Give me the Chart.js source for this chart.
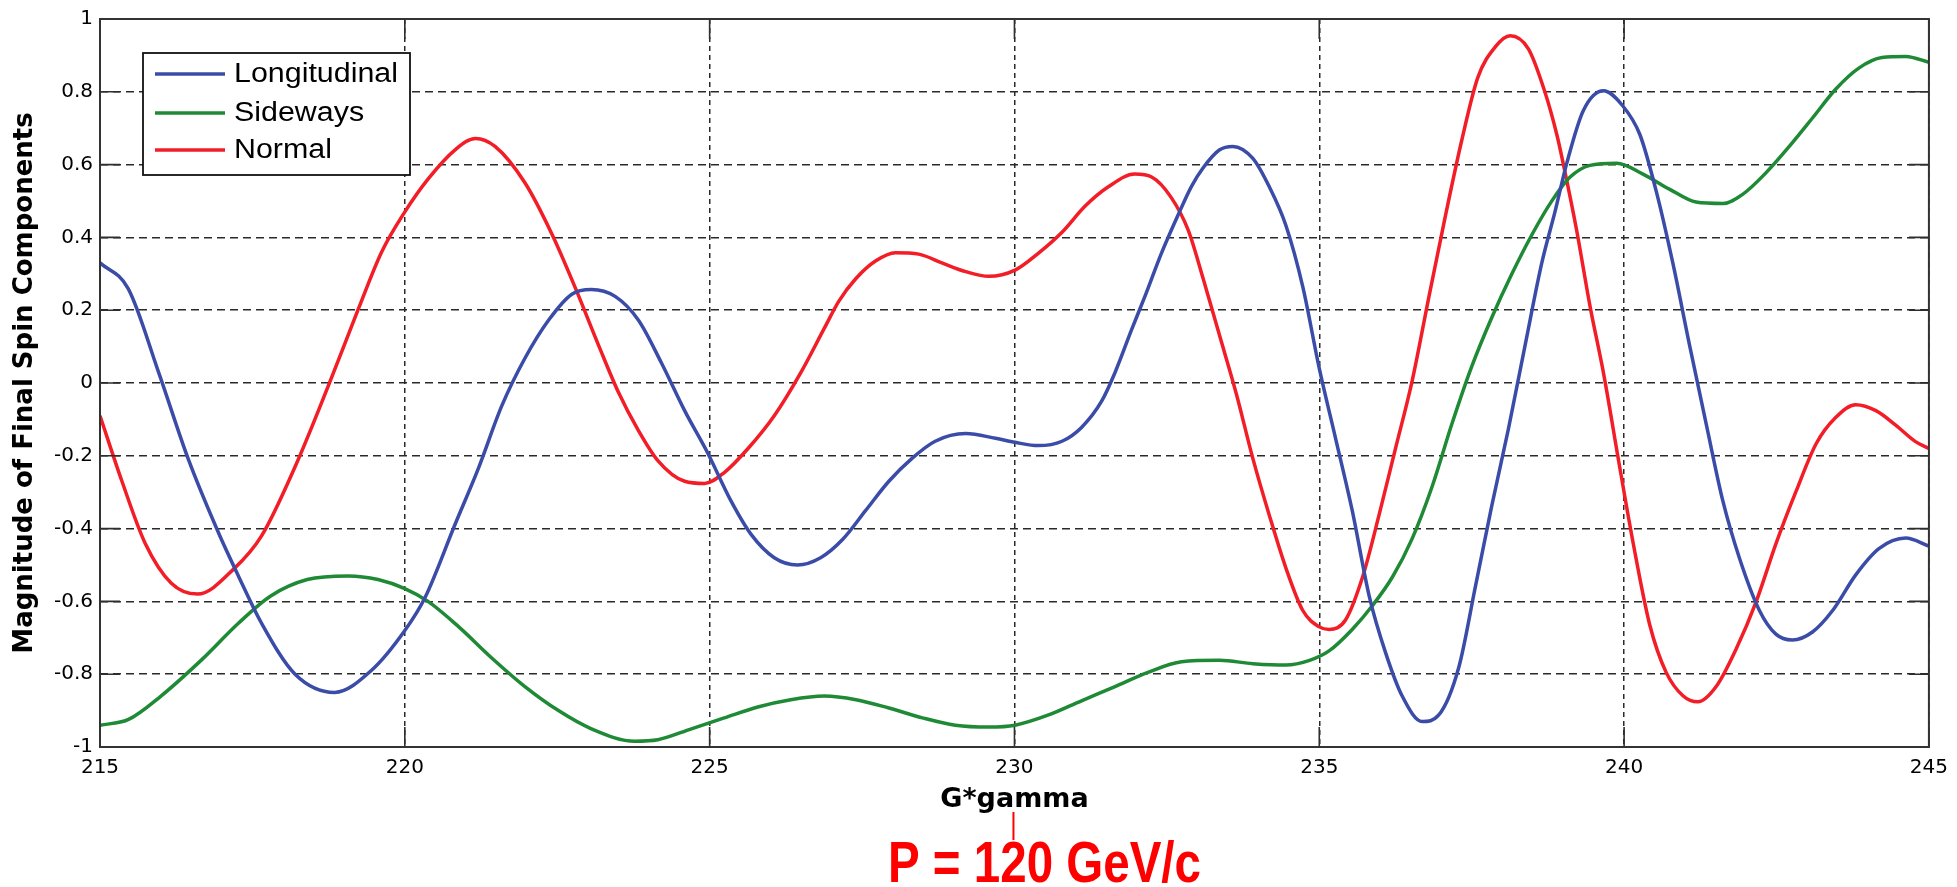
<!DOCTYPE html>
<html>
<head>
<meta charset="utf-8">
<script src="https://cdn.jsdelivr.net/npm/chart.js@4.4.1/dist/chart.umd.min.js"></script>
<style>
html,body{margin:0;padding:0;background:#fff;}
#wrap{width:1957px;height:887px;position:relative;}
</style>
</head>
<body>
<div id="wrap"><canvas id="c"></canvas></div>
<script>
// ---------- data ----------
const xTicks = [215, 220, 225, 230, 235, 240, 245];
const xTickLabels = ['215', '220', '225', '230', '235', '240', '245'];
const yTicks = [-1, -0.8, -0.6, -0.4, -0.2, 0, 0.2, 0.4, 0.6, 0.8, 1];
const yTickLabels = ['-1', '-0.8', '-0.6', '-0.4', '-0.2', '0', '0.2', '0.4', '0.6', '0.8', '1'];
const seriesNames = ['Longitudinal', 'Sideways', 'Normal'];
const xAxisTitle = 'G*gamma';
const yAxisTitle = 'Magnitude of Final Spin Components';
const annotationText = 'P = 120 GeV/c';

const longX = [215.0, 215.46, 215.96, 216.45, 216.94, 217.27, 217.65, 218.2, 218.85, 219.45, 220.0, 220.33, 220.82, 221.21, 221.59, 221.97, 222.36, 222.74, 223.06, 223.45, 223.83, 224.21, 224.59, 224.97, 225.35, 225.68, 226.06, 226.44, 226.82, 227.18, 227.56, 227.94, 228.32, 228.7, 229.2, 229.69, 230.01, 230.39, 230.78, 231.1, 231.43, 231.65, 231.92, 232.14, 232.41, 232.68, 232.9, 233.09, 233.36, 233.58, 233.91, 234.18, 234.45, 234.73, 235.0, 235.27, 235.54, 235.82, 236.09, 236.36, 236.69, 236.96, 237.29, 237.56, 237.83, 238.1, 238.38, 238.65, 238.87, 239.06, 239.33, 239.66, 239.98, 240.26, 240.53, 240.8, 241.07, 241.35, 241.62, 241.89, 242.22, 242.49, 242.76, 243.09, 243.42, 243.8, 244.18, 244.62, 245.0];
const longY = [0.33, 0.26, 0.03, -0.21, -0.41, -0.53, -0.66, -0.8, -0.85, -0.79, -0.68, -0.59, -0.39, -0.233, -0.063, 0.068, 0.173, 0.244, 0.257, 0.238, 0.173, 0.055, -0.076, -0.193, -0.324, -0.416, -0.48, -0.5, -0.48, -0.43, -0.35, -0.27, -0.207, -0.16, -0.139, -0.152, -0.163, -0.172, -0.16, -0.122, -0.05, 0.029, 0.146, 0.238, 0.356, 0.46, 0.539, 0.59, 0.64, 0.65, 0.617, 0.539, 0.434, 0.264, 0.04, -0.154, -0.35, -0.586, -0.742, -0.86, -0.93, -0.912, -0.78, -0.56, -0.337, -0.128, 0.107, 0.33, 0.473, 0.604, 0.748, 0.803, 0.761, 0.682, 0.525, 0.329, 0.107, -0.115, -0.324, -0.48, -0.625, -0.69, -0.706, -0.684, -0.625, -0.527, -0.455, -0.426, -0.448];

const sideX = [215.0, 215.46, 216.0, 216.67, 217.27, 217.8, 218.4, 219.07, 219.56, 220.0, 220.38, 220.885, 221.43, 221.97, 222.52, 223.06, 223.77, 224.15, 224.7, 225.24, 225.79, 226.33, 226.88, 227.4, 227.94, 228.49, 229.03, 229.58, 230.01, 230.56, 231.1, 231.65, 232.19, 232.74, 233.36, 233.91, 234.45, 234.84, 235.16, 235.54, 235.87, 236.2, 236.52, 236.85, 237.18, 237.5, 237.83, 238.16, 238.49, 238.81, 239.11, 239.44, 239.88, 240.31, 240.75, 241.18, 241.62, 241.95, 242.33, 242.71, 243.09, 243.47, 243.85, 244.23, 244.62, 245.0];
const sideY = [-0.94, -0.925, -0.86, -0.76, -0.66, -0.585, -0.54, -0.53, -0.54, -0.565, -0.6, -0.67, -0.756, -0.834, -0.9, -0.95, -0.984, -0.98, -0.95, -0.92, -0.89, -0.87, -0.86, -0.87, -0.893, -0.92, -0.94, -0.945, -0.94, -0.912, -0.873, -0.834, -0.795, -0.766, -0.762, -0.771, -0.775, -0.762, -0.736, -0.677, -0.612, -0.533, -0.429, -0.285, -0.11, 0.045, 0.18, 0.3, 0.408, 0.499, 0.565, 0.598, 0.604, 0.574, 0.532, 0.497, 0.493, 0.519, 0.578, 0.65, 0.728, 0.807, 0.865, 0.894, 0.897, 0.881];

const normX = [215.0, 215.36, 215.74, 216.17, 216.6, 217.2, 217.65, 218.2, 218.74, 219.23, 219.62, 220.0, 220.38, 220.82, 221.16, 221.48, 221.97, 222.41, 222.79, 223.17, 223.5, 223.83, 224.15, 224.59, 224.92, 225.24, 225.63, 226.06, 226.5, 226.88, 227.12, 227.4, 227.72, 228.05, 228.43, 228.81, 229.2, 229.58, 230.01, 230.39, 230.78, 231.16, 231.54, 231.97, 232.25, 232.57, 232.85, 233.09, 233.36, 233.64, 233.91, 234.18, 234.45, 234.73, 235.0, 235.16, 235.43, 235.71, 235.98, 236.25, 236.52, 236.8, 237.07, 237.34, 237.6, 237.89, 238.13, 238.43, 238.7, 238.9, 239.0, 239.22, 239.44, 239.66, 239.93, 240.15, 240.42, 240.69, 240.97, 241.21, 241.51, 241.84, 242.17, 242.49, 242.82, 243.15, 243.47, 243.8, 244.13, 244.45, 244.78, 245.0];
const normY = [-0.09, -0.27, -0.44, -0.55, -0.58, -0.51, -0.42, -0.23, -0.01, 0.2, 0.36, 0.47, 0.56, 0.64, 0.672, 0.65, 0.55, 0.41, 0.264, 0.107, -0.024, -0.13, -0.213, -0.27, -0.276, -0.246, -0.18, -0.09, 0.03, 0.15, 0.225, 0.287, 0.335, 0.358, 0.354, 0.33, 0.306, 0.293, 0.31, 0.356, 0.414, 0.486, 0.539, 0.574, 0.566, 0.51, 0.42, 0.29, 0.133, -0.03, -0.207, -0.363, -0.507, -0.625, -0.67, -0.677, -0.651, -0.533, -0.363, -0.18, 0.003, 0.238, 0.46, 0.669, 0.839, 0.924, 0.954, 0.918, 0.8, 0.68, 0.604, 0.421, 0.212, 0.029, -0.233, -0.441, -0.664, -0.795, -0.86, -0.876, -0.834, -0.73, -0.599, -0.442, -0.298, -0.167, -0.095, -0.06, -0.076, -0.115, -0.161, -0.18];

const seriesColors = ['#3a4ca8', '#1f8a35', '#f21d26'];

// ---------- build ----------
const pairs = (xs, ys) => xs.map((x, i) => ({x: x, y: ys[i]}));
const seriesData = [pairs(longX, longY), pairs(sideX, sideY), pairs(normX, normY)];

const datasets = seriesNames.map((name, i) => ({
  label: name,
  data: seriesData[i],
  borderColor: seriesColors[i],
  backgroundColor: seriesColors[i],
  borderWidth: 3.5,
  pointRadius: 0,
  fill: false,
  cubicInterpolationMode: 'monotone'
}));

const TICK_LEN = 20;

const framePlugin = {
  id: 'frame',
  afterDatasetsDraw(chart) {
    const {ctx, chartArea: a, scales} = chart;
    const xs = scales.x, ys = scales.y;
    ctx.save();
    ctx.setLineDash([]);
    ctx.strokeStyle = '#2e2e2e';
    ctx.lineWidth = 1.6;
    ctx.beginPath();
    yTicks.forEach(v => {
      const py = ys.getPixelForValue(v);
      ctx.moveTo(a.left, py); ctx.lineTo(a.left + TICK_LEN, py);
      ctx.moveTo(a.right, py); ctx.lineTo(a.right - TICK_LEN, py);
    });
    xTicks.forEach(v => {
      const px = xs.getPixelForValue(v);
      ctx.moveTo(px, a.bottom); ctx.lineTo(px, a.bottom - TICK_LEN);
      ctx.moveTo(px, a.top); ctx.lineTo(px, a.top + TICK_LEN);
    });
    ctx.stroke();
    ctx.lineWidth = 2;
    ctx.strokeStyle = '#333';
    ctx.strokeRect(a.left, a.top, a.right - a.left, a.bottom - a.top);
    ctx.restore();
  }
};

const legendPlugin = {
  id: 'innerLegend',
  afterDraw(chart) {
    const {ctx, chartArea: a} = chart;
    const lx = a.left + 43, ly = a.top + 34, lw = 267, lh = 122;
    ctx.save();
    ctx.fillStyle = '#fff';
    ctx.fillRect(lx, ly, lw, lh);
    ctx.strokeStyle = '#111';
    ctx.lineWidth = 1.8;
    ctx.setLineDash([]);
    ctx.strokeRect(lx, ly, lw, lh);
    const rows = [21, 60, 97];
    ctx.font = '27px "Liberation Sans", Arial, sans-serif';
    const sx = 164 / ctx.measureText(seriesNames[0]).width;
    chart.data.datasets.forEach((ds, i) => {
      const yy = ly + rows[i];
      ctx.strokeStyle = ds.borderColor;
      ctx.lineWidth = 3.5;
      ctx.beginPath();
      ctx.moveTo(lx + 12, yy); ctx.lineTo(lx + 82, yy);
      ctx.stroke();
      ctx.save();
      ctx.translate(lx + 91, yy + 1);
      ctx.scale(sx, 1);
      ctx.fillStyle = '#000';
      ctx.textAlign = 'left';
      ctx.textBaseline = 'middle';
      ctx.fillText(ds.label, 0, 0);
      ctx.restore();
    });
    ctx.restore();
  }
};

const annotationPlugin = {
  id: 'pAnnotation',
  afterDraw(chart) {
    const {ctx, chartArea: a} = chart;
    const cx = (a.left + a.right) / 2 - 1;
    ctx.save();
    ctx.strokeStyle = '#ff0000';
    ctx.lineWidth = 2;
    ctx.setLineDash([]);
    ctx.beginPath();
    ctx.moveTo(cx, 812); ctx.lineTo(cx, 840);
    ctx.stroke();
    ctx.font = 'bold 58px "Liberation Sans Narrow", "Liberation Sans", Arial, sans-serif';
    const w = ctx.measureText(annotationText).width;
    const sx = 313 / w;
    ctx.translate(cx + 31, 882);
    ctx.scale(sx, 1);
    ctx.fillStyle = '#ff0000';
    ctx.textAlign = 'center';
    ctx.textBaseline = 'alphabetic';
    ctx.fillText(annotationText, 0, 0);
    ctx.restore();
  }
};

new Chart(document.getElementById('c'), {
  type: 'line',
  data: {datasets: datasets},
  options: {
    responsive: true,
    maintainAspectRatio: false,
    animation: false,
    devicePixelRatio: 1,
    layout: {padding: {top: 17, right: 22, left: 0, bottom: 0}},
    plugins: {
      legend: {display: false},
      tooltip: {enabled: false}
    },
    scales: {
      x: {
        type: 'linear',
        min: 215,
        max: 245,
        afterBuildTicks: s => { s.ticks = xTicks.map(v => ({value: v})); },
        afterFit: s => { s.height = 140; },
        ticks: {
          padding: 9,
          maxRotation: 0,
          autoSkip: false,
          color: '#000',
          font: {family: '"DejaVu Sans", sans-serif', size: 20},
          callback: (v) => { const i = xTicks.indexOf(v); return i >= 0 ? xTickLabels[i] : ''; }
        },
        grid: {color: '#2a2a2a', lineWidth: 1.5, drawTicks: false},
        border: {display: false, dash: [5, 4]},
        title: {
          display: true,
          text: xAxisTitle,
          color: '#000',
          font: {family: '"DejaVu Sans", sans-serif', size: 27, weight: 'bold'},
          padding: {top: 0, bottom: 71}
        }
      },
      y: {
        type: 'linear',
        min: -1,
        max: 1,
        afterBuildTicks: s => { s.ticks = yTicks.map(v => ({value: v})); },
        afterFit: s => { s.width = 100; },
        ticks: {
          padding: 7,
          color: '#000',
          font: {family: '"DejaVu Sans", sans-serif', size: 20},
          callback: (v) => { const i = yTicks.findIndex(t => Math.abs(t - v) < 1e-9); return i >= 0 ? yTickLabels[i] : ''; }
        },
        grid: {color: '#2a2a2a', lineWidth: 1.5, drawTicks: false},
        border: {display: false, dash: [8, 5]},
        title: {
          display: true,
          text: yAxisTitle,
          color: '#000',
          font: {family: '"DejaVu Sans", sans-serif', size: 26, weight: 'bold'},
          padding: {top: 10, bottom: 0}
        }
      }
    }
  },
  plugins: [framePlugin, legendPlugin, annotationPlugin]
});
</script>
</body>
</html>
